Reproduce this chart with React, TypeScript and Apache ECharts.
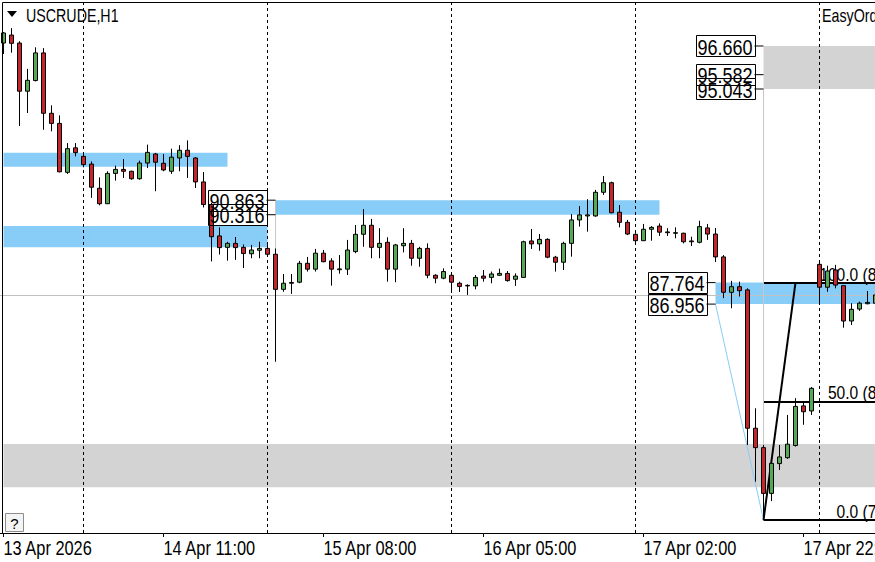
import React, { useEffect, useRef } from "react";
import * as echarts from "echarts";

// ---- data ----
const tickLabels = ["13 Apr 2026", "14 Apr 11:00", "15 Apr 08:00", "16 Apr 05:00", "17 Apr 02:00", "17 Apr 22:00"];
const labelStep = 20;

const opens = [
  96.77, 97.07, 96.77, 94.96, 95.36, 96.40, 94.13, 93.75, 91.91, 92.83,
  92.51, 92.22, 91.31, 90.73, 91.87, 92.02, 91.95, 91.67, 92.26, 92.60,
  92.25, 91.95, 92.45, 92.74, 92.45, 91.55, 90.70, 89.52, 89.09, 89.24,
  89.09, 88.85, 88.98, 89.05, 88.83, 87.51, 87.74, 87.78, 88.49, 88.27,
  88.87, 88.58, 88.25, 88.27, 88.93, 89.58, 89.92, 89.09, 89.28, 88.27,
  89.15, 89.24, 88.68, 89.05, 88.04, 87.93, 88.04, 87.74, 87.66, 87.64,
  88.01, 87.96, 88.04, 88.11, 87.89, 87.96, 89.33, 89.22, 89.39, 88.72,
  88.53, 89.24, 90.12, 90.27, 90.27, 91.16, 91.52, 90.41, 90.03, 89.58,
  89.34, 89.77, 89.89, 89.67, 89.64, 89.62, 89.33, 89.28, 89.82, 89.59,
  88.73, 87.40, 87.61, 87.49, 82.29, 81.56, 79.84, 80.96, 81.18, 81.64,
  83.13, 82.94, 88.45, 87.59, 88.24, 87.65, 86.32, 86.77, 86.97, 86.99,
];
const highs = [
  97.18, 97.33, 96.84, 95.80, 96.61, 96.58, 94.43, 94.05, 93.01, 93.01,
  92.67, 92.32, 91.72, 91.95, 92.16, 92.41, 91.97, 92.35, 92.95, 92.64,
  92.60, 92.80, 92.93, 93.11, 92.48, 91.92, 90.76, 89.84, 89.30, 89.48,
  89.20, 89.18, 89.30, 89.24, 89.05, 88.09, 88.09, 88.58, 88.73, 89.03,
  88.99, 88.68, 88.80, 89.37, 89.93, 90.53, 90.16, 89.81, 89.47, 89.22,
  89.81, 89.37, 89.11, 89.24, 88.08, 88.30, 88.10, 87.80, 87.70, 88.05,
  88.24, 88.18, 88.29, 88.20, 88.11, 89.34, 89.78, 89.59, 89.43, 88.77,
  89.30, 90.34, 90.64, 90.90, 91.25, 91.77, 91.56, 90.68, 90.12, 89.62,
  89.97, 89.89, 89.99, 89.81, 89.84, 89.64, 89.49, 90.09, 89.97, 89.82,
  88.80, 87.83, 87.80, 87.55, 83.04, 81.66, 81.06, 81.66, 82.79, 83.42,
  83.29, 83.84, 88.55, 88.40, 88.43, 87.65, 86.99, 87.05, 87.45, 87.49,
];
const lows = [
  96.36, 96.41, 93.65, 94.14, 95.33, 93.51, 93.45, 91.91, 91.85, 92.51,
  92.10, 90.95, 90.67, 90.72, 91.60, 91.70, 91.63, 91.63, 92.07, 91.20,
  91.95, 91.85, 91.95, 91.70, 91.32, 90.59, 88.56, 88.82, 88.59, 88.62,
  88.31, 88.68, 88.68, 88.80, 84.79, 87.42, 87.34, 87.74, 88.18, 88.18,
  88.53, 87.65, 88.10, 88.05, 88.87, 89.11, 88.68, 88.68, 87.80, 87.78,
  88.90, 88.40, 88.36, 87.93, 87.74, 87.89, 87.42, 87.41, 87.30, 87.51,
  87.80, 87.74, 88.01, 87.80, 87.64, 87.95, 89.03, 88.96, 88.68, 88.18,
  88.24, 88.74, 89.87, 89.68, 90.24, 91.06, 90.37, 89.84, 89.55, 89.22,
  89.33, 89.34, 89.52, 89.52, 89.43, 89.24, 89.14, 89.24, 89.37, 88.54,
  87.18, 86.80, 87.24, 81.66, 80.28, 78.84, 79.55, 80.72, 81.14, 81.60,
  82.42, 82.79, 86.99, 87.42, 87.55, 86.07, 86.17, 86.70, 86.95, 86.92,
];
const closes = [
  97.15, 96.76, 94.96, 95.37, 96.40, 94.13, 93.75, 91.93, 92.80, 92.65,
  92.20, 91.35, 90.73, 91.87, 92.02, 91.95, 91.67, 92.26, 92.66, 92.29,
  92.00, 92.48, 92.74, 92.51, 91.55, 90.70, 89.49, 89.08, 89.24, 89.08,
  88.86, 88.99, 89.05, 88.83, 87.51, 87.74, 87.77, 88.49, 88.27, 88.87,
  88.55, 88.27, 88.28, 88.99, 89.58, 89.92, 89.09, 89.24, 88.27, 89.18,
  89.24, 88.68, 89.05, 88.04, 87.93, 88.18, 87.78, 87.62, 87.64, 87.96,
  87.93, 88.09, 88.11, 87.84, 88.01, 89.30, 89.22, 89.39, 88.72, 88.53,
  89.24, 90.12, 90.31, 90.31, 91.16, 91.52, 90.39, 90.03, 89.59, 89.34,
  89.77, 89.84, 89.66, 89.64, 89.62, 89.30, 89.30, 89.87, 89.59, 88.73,
  87.40, 87.61, 87.46, 82.29, 81.56, 79.84, 80.97, 81.21, 81.69, 83.11,
  82.91, 83.79, 87.59, 88.20, 87.67, 86.32, 86.76, 86.99, 87.02, 87.30,
];

const separatorIdx = [10, 33, 56, 79, 102];
const bidPrice = 87.30;

// zones: [startIdx, endIdx, priceTop, priceBottom]
const blueZones = [
  [0, 28, 92.65, 92.12],
  [0, 33, 89.89, 89.09],
  [34, 82, 90.863, 90.316],
  [89, 109, 87.764, 86.956],
];
const greyZones = [
  [95, 109, 96.66, 95.043],
  [0, 109, 81.70, 80.07],
];

// price labels: [price, anchor candle index]
const priceLabels = [
  [96.66, 95], [95.582, 95], [95.043, 95],
  [90.863, 34], [90.316, 34],
  [87.764, 89], [86.956, 89],
];

const fibLow = 78.84;
const fibHigh = 87.764;
const fibStartIdx = 95;
const fibEndIdx = 99;
const fibLevels = [0, 50, 100];

const yMin = 78.351;
const yMax = 98.276;

const SANS = '"Liberation Sans", Arial, sans-serif';
const NARROW_SCALE = 0.82;

export default function App() {
  const ref = useRef<HTMLDivElement>(null);
  useEffect(() => {
    if (!ref.current) return;
    const chart = echarts.init(ref.current, null, { renderer: "svg" });
    const categories = opens.map((_, i) => "c" + i);
    const candleData = opens.map((o, i) => [o, closes[i], lows[i], highs[i]]);
    const fibPrices = fibLevels.map((l) => fibLow + ((fibHigh - fibLow) * l) / 100);
    const lastIdx = opens.length - 1;

    const option: any = {
      animation: false,
      backgroundColor: "#ffffff",
      grid: { left: -0.5, top: 3, width: opens.length * 8, height: 530, outerBoundsMode: "none", containLabel: false },
      xAxis: {
        type: "category",
        data: categories,
        boundaryGap: true,
        axisLine: { show: true, lineStyle: { color: "#000", width: 1 } },
        axisTick: { show: true, alignWithLabel: true, interval: labelStep - 1, length: 4, lineStyle: { color: "#000" } },
        axisLabel: { show: false, interval: labelStep - 1 },
        splitLine: { show: false },
      },
      yAxis: { type: "value", min: yMin, max: yMax, show: false, splitLine: { show: false } },
      series: [
        {
          type: "line",
          data: [],
          z: 1,
          silent: true,
          markLine: {
            silent: true,
            symbol: ["none", "none"],
            label: { show: false },
            emphasis: { disabled: true },
            data: [
              { yAxis: bidPrice, lineStyle: { color: "#c0c0c0", width: 1, type: "solid" } },
              ...separatorIdx.map((i) => ({ xAxis: i, lineStyle: { color: "#000", width: 1, type: [3, 3] } })),
            ],
          },
        },
        {
          type: "line",
          data: [],
          z: 2,
          silent: true,
          markArea: {
            silent: true,
            emphasis: { disabled: true },
            data: [
              ...blueZones.map((z) => [
                { xAxis: z[0], yAxis: z[2], itemStyle: { color: "#87cdf8", opacity: 1 } },
                { xAxis: z[1], yAxis: z[3] },
              ]),
              ...greyZones.map((z) => [
                { xAxis: z[0], yAxis: z[2], itemStyle: { color: "#d3d3d3", opacity: 1 } },
                { xAxis: z[1], yAxis: z[3] },
              ]),
            ],
          },
        },
        {
          type: "line",
          data: [],
          z: 3,
          silent: true,
          markLine: {
            silent: true,
            symbol: ["none", "none"],
            label: { show: false },
            emphasis: { disabled: true },
            data: [
              ...fibPrices.map((p) => [
                { coord: [fibStartIdx, p], lineStyle: { color: "#000", width: 2, type: "solid" } },
                { coord: [lastIdx, p] },
              ]),
              [
                { coord: [fibStartIdx, fibLow], lineStyle: { color: "#000", width: 2, type: "solid" } },
                { coord: [fibEndIdx, fibHigh] },
              ],
              [
                { coord: [89, 86.956], lineStyle: { color: "#87cdf8", width: 1, type: "solid" } },
                { coord: [fibStartIdx, fibLow] },
              ],
              [
                { coord: [fibStartIdx, 95.043], lineStyle: { color: "#c8c8c8", width: 1, type: "solid" } },
                { coord: [fibStartIdx, fibLow] },
              ],
              [
                { coord: [34, 90.863], lineStyle: { color: "#c8c8c8", width: 1, type: "solid" } },
                { coord: [34, highs[34]] },
              ],
            ],
          },
        },
        {
          type: "candlestick",
          z: 5,
          barWidth: 5,
          data: candleData,
          itemStyle: {
            color: "#55a955",
            color0: "#c4262c",
            borderColor: "#000",
            borderColor0: "#000",
            borderWidth: 1,
          },
          emphasis: { disabled: true },
        },
      ],
    };
    chart.setOption(option);

    const px = (i: number, p: number) => chart.convertToPixel({ gridIndex: 0 }, [i, p]) as number[];
    const graphics: any[] = [];
    // border
    graphics.push({ type: "line", z: 20, shape: { x1: 2.5, y1: 2.5, x2: 2.5, y2: 533 }, style: { stroke: "#000", lineWidth: 1 } });
    graphics.push({ type: "line", z: 20, shape: { x1: 2.5, y1: 2.5, x2: 875, y2: 2.5 }, style: { stroke: "#000", lineWidth: 1 } });
    // title
    graphics.push({ type: "polygon", z: 20, shape: { points: [[7, 11], [17, 11], [12, 17]] }, style: { fill: "#000" } });
    graphics.push({ type: "text", z: 20, x: 26, y: 15.5, scaleX: 0.75, style: { text: "USCRUDE,H1", fill: "#000", font: `19px ${SANS}`, verticalAlign: "middle" } });
    graphics.push({ type: "text", z: 20, x: 822, y: 15.5, scaleX: 0.75, style: { text: "EasyOrder", fill: "#000", font: `19px ${SANS}`, verticalAlign: "middle" } });
    // question box
    graphics.push({ type: "rect", z: 20, shape: { x: 5.5, y: 513.5, width: 18, height: 18 }, style: { fill: "#f4f4f4", stroke: "#8c8c8c", lineWidth: 1 } });
    graphics.push({ type: "text", z: 21, x: 14.5, y: 523, style: { text: "?", fill: "#000", font: `15px ${SANS}`, align: "center", verticalAlign: "middle" } });
    // time labels along the category axis
    tickLabels.forEach((t, k) => {
      const [tx, ty] = px(k * labelStep, yMin);
      graphics.push({ type: "text", z: 20, x: tx, y: ty + 15, scaleX: NARROW_SCALE, style: { text: t, fill: "#000", font: `20px ${SANS}`, align: "left", verticalAlign: "middle" } });
    });
    // price labels
    priceLabels.forEach(([p, idx]) => {
      const [ax, py] = px(idx, p);
      const right = ax - 9;
      graphics.push({ type: "line", z: 10, shape: { x1: right, y1: py, x2: ax, y2: py }, style: { stroke: "#000", lineWidth: 1 } });
      graphics.push({ type: "rect", z: 10, shape: { x: Math.round(right - 59) + 0.5, y: Math.round(py - 10.5) + 0.5, width: 59, height: 21 }, style: { fill: "none", stroke: "#000", lineWidth: 1 } });
      graphics.push({ type: "text", z: 11, x: right - 29.5, y: py + 1, scaleX: NARROW_SCALE, style: { text: p.toFixed(3), fill: "#000", font: `22px ${SANS}`, align: "center", verticalAlign: "middle" } });
    });
    // fib labels
    const [fx] = px(fibStartIdx, fibLow);
    fibLevels.forEach((l, k) => {
      const [, py] = px(fibStartIdx, fibPrices[k]);
      graphics.push({ type: "text", z: 4, x: fx + 157, y: py + 1, scaleX: NARROW_SCALE, style: { text: `${l.toFixed(1)} (${fibPrices[k].toFixed(3)})`, fill: "#000", font: `19px ${SANS}`, align: "right", verticalAlign: "bottom" } });
    });
    chart.setOption({ graphic: { elements: graphics } });
    return () => chart.dispose();
  }, []);
  return <div ref={ref} style={{ position: "absolute", left: 0, top: 0, width: 875, height: 562 }} />;
}
